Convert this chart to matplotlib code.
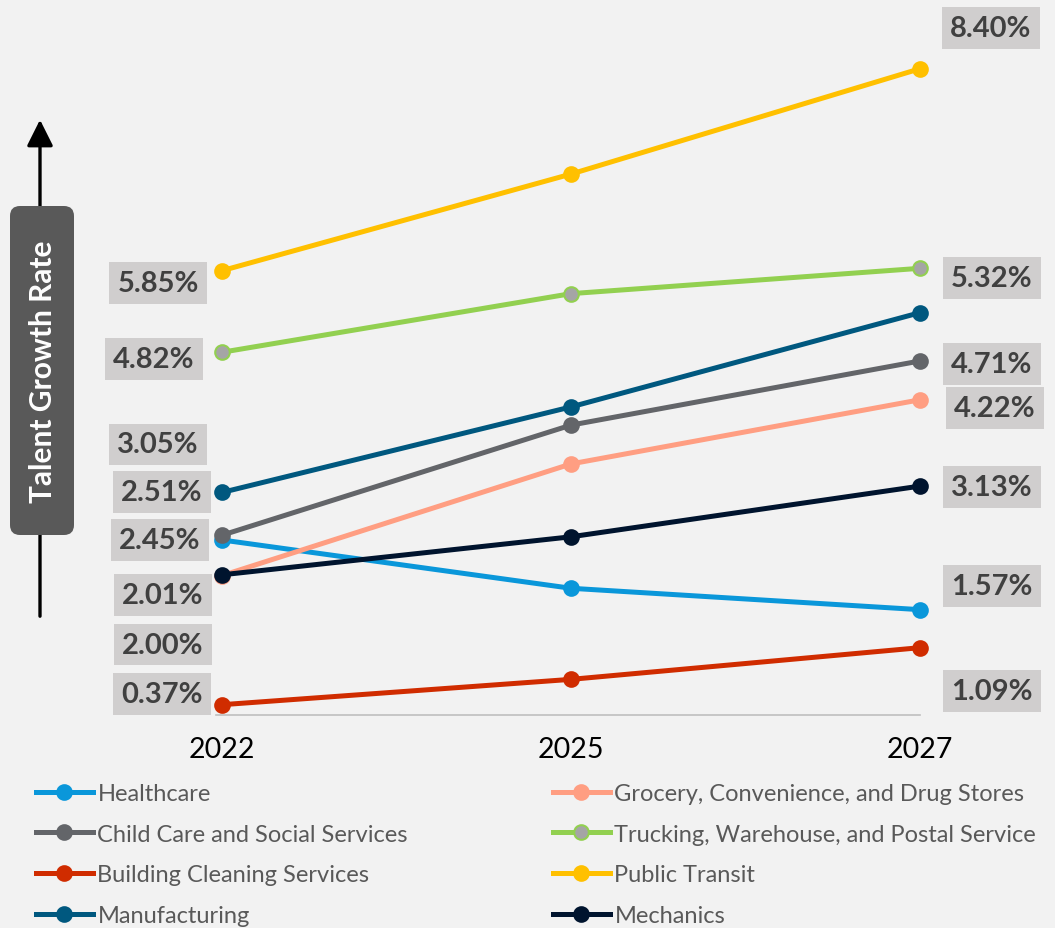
import matplotlib
matplotlib.use("Agg")
import matplotlib.pyplot as plt
from matplotlib.patches import FancyBboxPatch, FancyArrowPatch
from matplotlib.lines import Line2D

plt.rcParams['font.family'] = ['Lato', 'DejaVu Sans']

anos = ["2022", "2025", "2027"]

healthcare = [2.45, 1.84, 1.57]
childCare = [2.51, 3.90, 4.71]
buildingCleaning = [0.37, 0.69, 1.09]
manufacturing = [3.05, 4.13, 5.32]
grocery = [2.00, 3.41, 4.22]
trucking = [4.82, 5.56, 5.88]
publicTransit = [5.85, 7.07, 8.40]
mechanics = [2.01, 2.49, 3.13]

nomes = ["Healthcare", "Child Care and Social Services", "Building Cleaning Services",
         "Manufacturing", "Grocery, Convenience, and Drug Stores",
         "Trucking, Warehouse, and Postal Service", "Public Transit", "Mechanics"]
series = [healthcare, childCare, buildingCleaning, manufacturing, grocery,
          trucking, publicTransit, mechanics]
cores = ["#0A97DA", "#636569", "#D02C00", "#00587F", "#FF9E82",
         "#92D050", "#FFC000", "#00142E"]
coresMarcador = ["#0A97DA", "#636569", "#D02C00", "#00587F", "#FF9E82",
                 "#A5A5A5", "#FFC000", "#00142E"]

# rotulos: (indice da serie, indice do ano, deslocamento x px, deslocamento y px)
rotulos = [
    (6, 0, -64, -12), (5, 0, -68, -7), (3, 0, -64, 48), (1, 0, -60, 43),
    (0, 0, -62, 0), (7, 0, -59, -20), (4, 0, -59, -69), (2, 0, -60, 11),
    (6, 2, 71, 41), (3, 2, 72, 35), (1, 2, 72, -3), (4, 2, 75, -8),
    (7, 2, 72, -1), (0, 2, 72, 24), (2, 2, 72, -43),
]

fig = plt.figure(figsize=(10.55, 9.29), dpi=100)
fig.patch.set_facecolor("#F2F2F2")

# camada de fundo em pixels para a seta e a caixa do eixo
fundo = fig.add_axes([0, 0, 1, 1])
fundo.set_xlim(0, 1055)
fundo.set_ylim(929, 0)
fundo.axis("off")
fundo.set_zorder(0)

fundo.add_patch(FancyArrowPatch((40, 620), (40, 118), arrowstyle="-|>,head_length=10,head_width=5",
                                mutation_scale=1.6, color="black", lw=2.4))
fundo.add_patch(FancyBboxPatch((10, 207), 64, 329, boxstyle="round,pad=0,rounding_size=10",
                               facecolor="#595959", edgecolor="none", zorder=3))
fundo.text(43, 372, "Talent Growth Rate", rotation=90, ha="center", va="center",
           color="white", fontsize=21.5, fontweight="bold", zorder=4)

ax = fig.add_axes([216 / 1055, (929 - 716) / 929, 704 / 1055, 696 / 929])
ax.set_zorder(1)
ax.patch.set_alpha(0)
x = list(range(len(anos)))

for nome, valores, cor, corM in zip(nomes, series, cores, coresMarcador):
    ax.plot(x, valores, color=cor, lw=3.6, marker="o", markersize=10.5,
            markerfacecolor=corM, markeredgecolor=cor, markeredgewidth=1.5,
            clip_on=False, label=nome, solid_capstyle="round")

for s, i, dx, dy in rotulos:
    v = series[s][i]
    ax.annotate(f"{v:.2f}%", xy=(i, v), xytext=(dx, dy), textcoords="offset pixels",
                ha="center", va="center", fontsize=21, fontweight="bold", color="#404040",
                bbox=dict(boxstyle="square,pad=0.27", facecolor="#D0CECE", edgecolor="none"),
                annotation_clip=False)

ax.set_xlim(-6 / 351, 2 - 4 / 351)
ax.set_ylim((735 - 716) / 79.2, (735 - 20) / 79.2)
ax.set_xticks(x)
ax.set_xticklabels(anos, fontsize=20.5, color="black")
ax.tick_params(axis="x", length=0, pad=15)
ax.set_yticks([])
for lado in ["top", "right", "left"]:
    ax.spines[lado].set_visible(False)
ax.spines["bottom"].set_color("#BFBFBF")
ax.spines["bottom"].set_linewidth(1.2)

handles = []
for nome, cor, corM in zip(nomes, cores, coresMarcador):
    handles.append(Line2D([0], [0], color=cor, lw=3.6, marker="o", markersize=10.5,
                          markerfacecolor=corM, markeredgecolor=cor, markeredgewidth=1.5))

estiloLegenda = dict(frameon=False, fontsize=17, handlelength=2.4, handletextpad=0.2,
                     labelspacing=0.83, borderpad=0, borderaxespad=0, labelcolor="#595959",
                     loc="upper left")
leg1 = fig.legend(handles[:4], nomes[:4], bbox_to_anchor=(36 / 1055, 1 - 784 / 929), **estiloLegenda)
leg2 = fig.legend(handles[4:], nomes[4:], bbox_to_anchor=(553 / 1055, 1 - 784 / 929), **estiloLegenda)

fig.savefig("out.png", dpi=100, facecolor=fig.get_facecolor())
